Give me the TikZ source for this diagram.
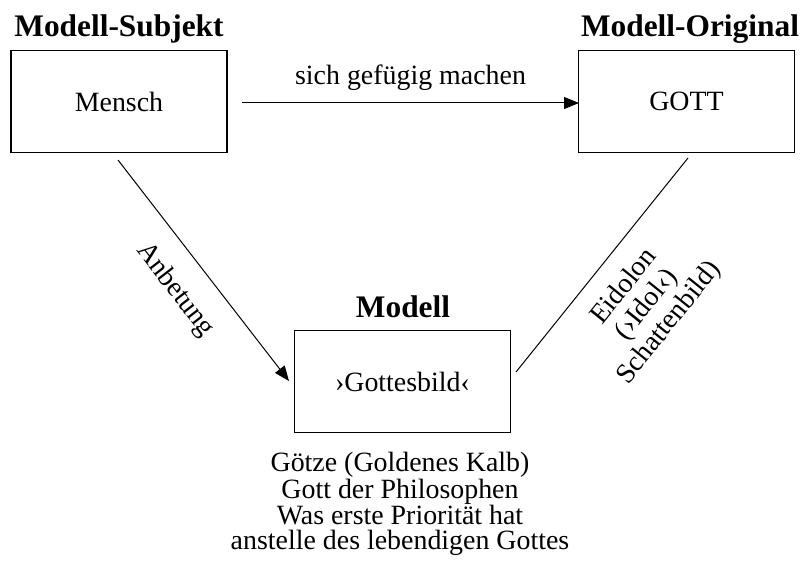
\documentclass[tikz,border=0pt]{standalone}
\usepackage{fontspec}
\setmainfont{Liberation Serif}
\usetikzlibrary{arrows.meta}
\begin{document}
\begin{tikzpicture}[x=1bp,y=-1bp,
  box/.style={draw,line width=1.6bp,minimum width=216bp,minimum height=102bp,inner sep=0pt,font=\fontsize{28}{25}\selectfont},
  title/.style={font=\fontsize{31.5}{30}\selectfont\bfseries,inner sep=0pt,anchor=base},
  lbl/.style={font=\fontsize{28}{25}\selectfont,inner sep=0pt},
  conn/.style={line width=1bp},
  tip/.style={-{Triangle[length=15bp,width=12bp]}}]
\useasboundingbox (0,0) rectangle (801,574);
\node[box] (mensch) at (119,101.5) {Mensch};
\node[box] (gott) at (686.5,101.5) {GOTT};
\node[box] (modell) at (402.5,381.5) {›Gottesbild‹};
\node[title] (tsub) at (119,37) {Modell-Subjekt};
\node[title] (torig) at (690,37) {Modell-Original};
\node[title] (tmod) at (403,317) {Modell};
\coordinate (a1) at (242,103);
\coordinate (a2) at (579,103);
\draw[conn,tip] (a1) -- (a2) node[lbl,midway,above=12bp] (lsich) {sich gefügig machen};
\coordinate (b1) at (118,160);
\coordinate (b2) at (289,381);
\draw[conn,tip] (b1) -- (b2);
\node[lbl,rotate=-52.3] (lanb) at (175,290) {Anbetung};
\coordinate (c1) at (688,158);
\coordinate (c2) at (516,372);
\draw[conn] (c1) -- (c2);
\node[lbl,rotate=51.2,align=center,font=\fontsize{28}{29}\selectfont] (leid) at (647,305) {Eidolon\\(›Idol‹)\\Schattenbild)};
\node[lbl,align=center] (bottom) at (400,504) {Götze (Goldenes Kalb)\\Gott der Philosophen\\Was erste Priorität hat\\anstelle des lebendigen Gottes};
\end{tikzpicture}
\end{document}
